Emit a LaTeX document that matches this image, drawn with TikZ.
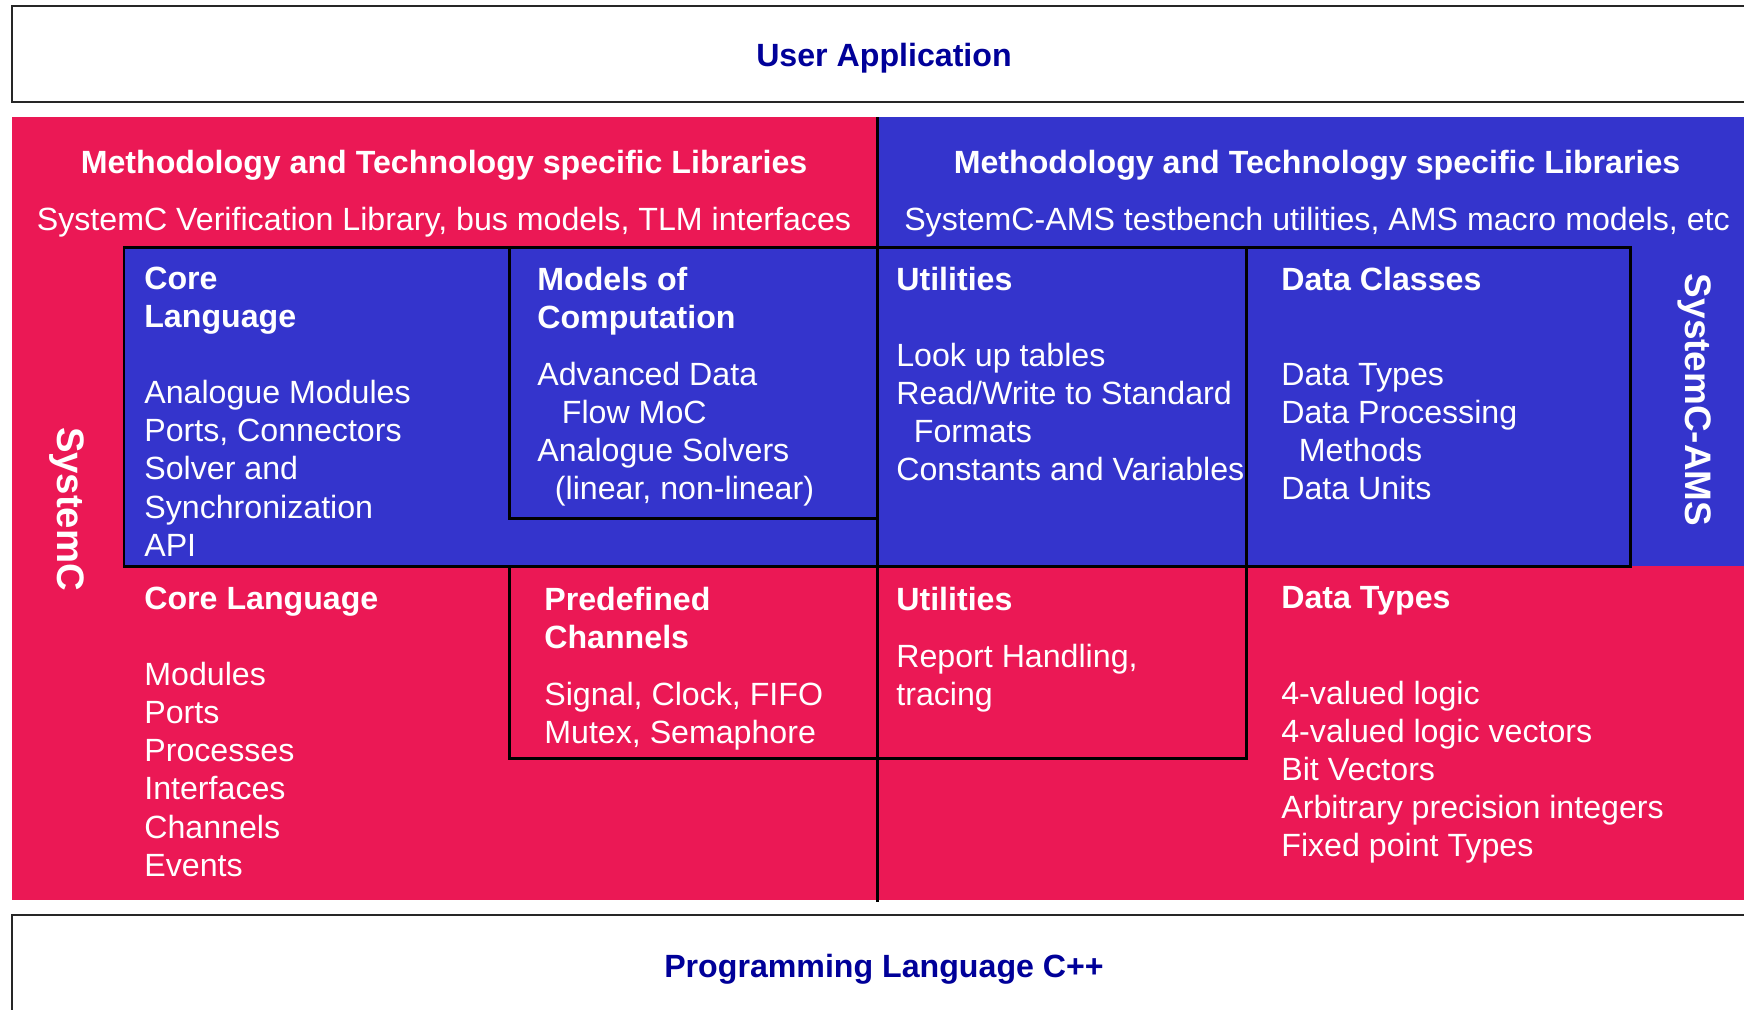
\documentclass[tikz,border=0pt]{standalone}
\usepackage{fontspec}
\setmainfont{Liberation Sans}
\usepackage{xcolor}
\usepackage{tikz}

\definecolor{scred}{RGB}{235,24,85}
\definecolor{scblue}{RGB}{52,52,204}
\definecolor{scnavy}{RGB}{0,0,153}
\newcommand{\cellfont}{\fontsize{18.3}{21.7}\selectfont}
\newcommand{\sidefont}{\fontsize{21}{25}\selectfont\bfseries}

\begin{document}
\begin{tikzpicture}[x=0.02cm, y=-0.02cm,
    cell/.style={anchor=north west, inner sep=0pt, align=left, text=white, font=\cellfont},
    libtext/.style={anchor=base, inner sep=0pt, text=white, font=\cellfont},
    layer/.style={draw=black!85, line width=1.1pt, fill=white},
    part/.style={draw=black, line width=1.7pt}]
    \useasboundingbox (0,0) rectangle (1744,1009);

    % User application and C++ layers
    \draw[layer] (12,6) rectangle (1760,102);
    \draw[layer] (12,915) rectangle (1760,1030);
    \node[libtext, text=scnavy, font=\cellfont\bfseries] (user) at (884,66) {User Application};
    \node[libtext, text=scnavy, font=\cellfont\bfseries] (cpp) at (884,977) {Programming Language C++};

    % SystemC (red) and SystemC-AMS (blue) areas
    \fill[scred] (12,117) rectangle (1760,900);
    \fill[scblue] (877,117) rectangle (1760,566);
    \draw[part, fill=scblue] (124,247) rectangle (1630,566);
    \draw[part] (509,247) rectangle (877,518);
    \draw[part] (509,566) rectangle (877,758);
    \draw[part] (877,566) rectangle (1246,758);
    \draw[part] (1246,247) -- (1246,566);
    \draw[part] (877,117) -- (877,902);

    % Libraries
    \node[libtext, font=\cellfont\bfseries] (sclib) at (444,173) {Methodology and Technology specific Libraries};
    \node[libtext] (sclibitems) at (444,230) {SystemC Verification Library, bus models, TLM interfaces};
    \node[libtext, font=\cellfont\bfseries] (amslib) at (1317,173) {Methodology and Technology specific Libraries};
    \node[libtext] (amslibitems) at (1317,230) {SystemC-AMS testbench utilities, AMS macro models, etc};

    % side labels
    \node[text=white, font=\fontsize{21.8}{26}\selectfont\bfseries, rotate=-90, inner sep=0pt] (systemc) at (67,509) {SystemC};
    \node[text=white, font=\sidefont, rotate=-90, inner sep=0pt] (systemcams) at (1695,400) {SystemC-AMS};

    % SystemC-AMS cells
    \node[cell] (amscore) at (144,266.5) {\textbf{Core}\\\textbf{Language}\\[21.7pt]
        Analogue Modules\\Ports, Connectors\\Solver and\\Synchronization\\API};
    \node[cell] (moc) at (537,266.5) {\textbf{Models of}\\\textbf{Computation}\\[10.85pt]
        Advanced Data\\\hspace*{14pt}Flow MoC\\Analogue Solvers\\\hspace*{10pt}(linear, non-linear)};
    \node[cell] (amsutil) at (896,266.5) {\textbf{Utilities}\\[21.7pt]
        Look up tables\\Read/Write to Standard\\\hspace*{10pt}Formats\\Constants and Variables};
    \node[cell] (dataclasses) at (1281,266.5) {\textbf{Data Classes}\\[32.5pt]
        Data Types\\Data Processing\\\hspace*{10pt}Methods\\Data Units};

    % SystemC cells
    \node[cell] (sccore) at (144,586.5) {\textbf{Core Language}\\[21.7pt]
        Modules\\Ports\\Processes\\Interfaces\\Channels\\Events};
    \node[cell] (channels) at (544,586.5) {\textbf{Predefined}\\\textbf{Channels}\\[10.85pt]
        Signal, Clock, FIFO\\Mutex, Semaphore};
    \node[cell] (scutil) at (896,586.5) {\textbf{Utilities}\\[10.85pt]
        Report Handling,\\tracing};
    \node[cell] (datatypes) at (1281,586.5) {\textbf{Data Types}\\[32.5pt]
        4-valued logic\\4-valued logic vectors\\Bit Vectors\\Arbitrary precision integers\\Fixed point Types};
\end{tikzpicture}
\end{document}
